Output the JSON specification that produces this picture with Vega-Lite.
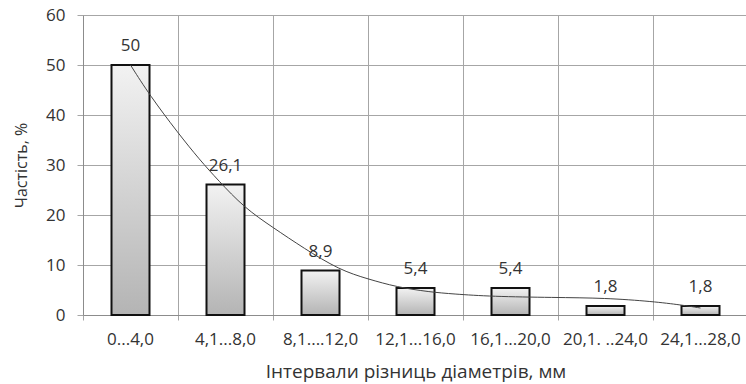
{
  "$schema": "https://vega.github.io/schema/vega-lite/v6.json",
  "width": 665,
  "height": 300,
  "autosize": {"type": "none"},
  "padding": {"left": 83, "top": 15, "right": 0, "bottom": 69},
  "background": "white",
  "config": {
    "font": "Open Sans",
    "view": {"stroke": null},
    "locale": {
      "number": {"decimal": ",", "thousands": " ", "grouping": [3], "currency": ["", " ₴"]}
    },
    "axis": {
      "labelFont": "Open Sans",
      "titleFont": "Open Sans",
      "labelColor": "#333333",
      "titleColor": "#333333",
      "titleFontWeight": "normal",
      "gridColor": "#a6a6a6",
      "gridOpacity": 1,
      "domainColor": "#8c8c8c",
      "tickColor": "#a6a6a6"
    }
  },
  "datasets": {
    "freq": [
      {"interval": "0...4,0", "share": 50},
      {"interval": "4,1...8,0", "share": 26.1},
      {"interval": "8,1....12,0", "share": 8.9},
      {"interval": "12,1...16,0", "share": 5.4},
      {"interval": "16,1...20,0", "share": 5.4},
      {"interval": "20,1. ..24,0", "share": 1.8},
      {"interval": "24,1...28,0", "share": 1.8}
    ],
    "trend": [
      {"pos": 1.0, "share": 50},
      {"pos": 1.2, "share": 44},
      {"pos": 1.5, "share": 36.4},
      {"pos": 1.73, "share": 31},
      {"pos": 1.92, "share": 27},
      {"pos": 2.2, "share": 21.4},
      {"pos": 2.5, "share": 17.5},
      {"pos": 2.82, "share": 13.4},
      {"pos": 3.2, "share": 9},
      {"pos": 3.5, "share": 7.2},
      {"pos": 3.8, "share": 5.6},
      {"pos": 4.15, "share": 4.6},
      {"pos": 4.4, "share": 4.2},
      {"pos": 4.8, "share": 3.7},
      {"pos": 5.45, "share": 3.5},
      {"pos": 6.0, "share": 3.4},
      {"pos": 6.5, "share": 2.7},
      {"pos": 6.8, "share": 2.0},
      {"pos": 7.0, "share": 1.4}
    ]
  },
  "layer": [
    {
      "data": {"name": "freq"},
      "encoding": {
        "x": {
          "field": "interval",
          "type": "nominal",
          "sort": null,
          "scale": {"paddingInner": 0.6, "paddingOuter": 0.3},
          "axis": {
            "orient": "bottom",
            "title": "Інтервали різниць діаметрів, мм",
            "titleFontSize": 19,
            "titlePadding": 15,
            "labelFontSize": 17,
            "labelAngle": 0,
            "labelPadding": 16,
            "ticks": false,
            "domain": false,
            "grid": false
          }
        },
        "y": {
          "field": "share",
          "type": "quantitative",
          "scale": {"domain": [0, 60], "nice": false},
          "axis": {
            "title": "Частість, %",
            "titleFontSize": 16,
            "titlePadding": 16,
            "values": [0, 10, 20, 30, 40, 50, 60],
            "labelFontSize": 17,
            "labelPadding": 12,
            "tickSize": 6,
            "domain": true
          }
        }
      },
      "layer": [
        {
          "mark": {
            "type": "bar",
            "stroke": "#111111",
            "strokeWidth": 2,
            "color": {
              "gradient": "linear",
              "x1": 0, "y1": 0, "x2": 0, "y2": 1,
              "stops": [
                {"offset": 0, "color": "#f2f2f2"},
                {"offset": 1, "color": "#b4b4b4"}
              ]
            }
          }
        },
        {
          "mark": {"type": "text", "baseline": "alphabetic", "dy": -14, "fontSize": 17, "color": "#333333"},
          "encoding": {
            "text": {"field": "share", "type": "quantitative", "format": ".1~f"}
          }
        }
      ]
    },
    {
      "data": {"name": "trend"},
      "mark": {"type": "line", "color": "#444444", "strokeWidth": 1, "interpolate": "basis"},
      "encoding": {
        "x": {
          "field": "pos",
          "type": "quantitative",
          "scale": {"domain": [0.5, 7.5], "nice": false, "zero": false},
          "axis": {
            "orient": "bottom",
            "values": [0.5, 1.5, 2.5, 3.5, 4.5, 5.5, 6.5, 7.5],
            "labels": false,
            "title": null,
            "grid": true,
            "ticks": true,
            "tickSize": 5,
            "domain": true
          }
        },
        "y": {"field": "share", "type": "quantitative"}
      }
    }
  ],
  "resolve": {"scale": {"x": "independent"}}
}
